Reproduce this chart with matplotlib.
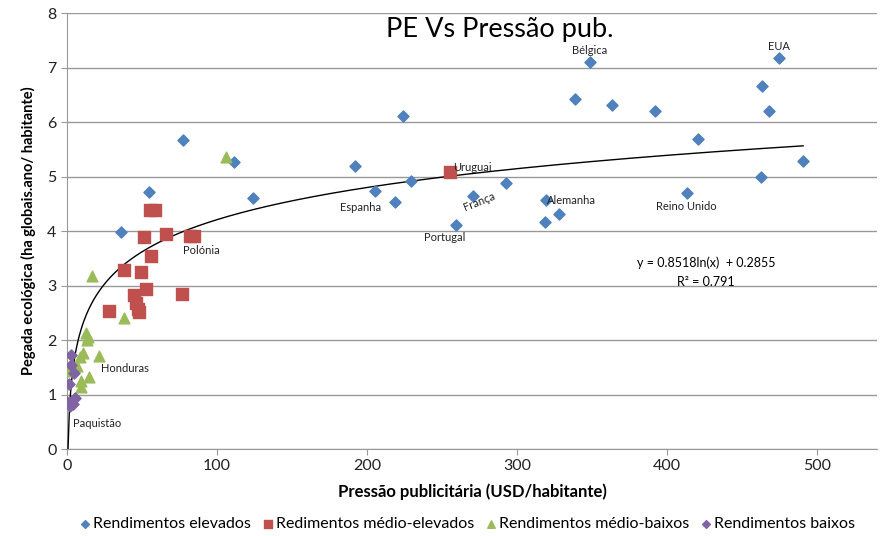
import numpy as np
import matplotlib.pyplot as plt

plt.rcParams['font.family'] = ['Lato', 'DejaVu Sans']

# Rendimentos elevados
alto_x = [35.8, 54.7, 77.1, 111.3, 124.2, 192.2, 205.3, 218.7, 224.2, 229.3,
          259.3, 270.9, 292.7, 318.7, 319.1, 328.2, 338.7, 348.7, 363.1, 392.0,
          413.1, 420.4, 462.9, 463.6, 468.0, 474.7, 490.7]
alto_y = [3.98, 4.72, 5.67, 5.26, 4.61, 5.19, 4.73, 4.53, 6.11, 4.91,
          4.11, 4.65, 4.89, 4.17, 4.56, 4.32, 6.42, 7.10, 6.32, 6.20,
          4.70, 5.69, 5.00, 6.67, 6.20, 7.17, 5.28]

# Rendimentos médio-elevados
medalto_x = [27.8, 38.2, 44.7, 46.0, 47.6, 48.0, 49.1, 51.3, 52.4, 55.5,
             55.8, 58.5, 65.8, 76.9, 82.2, 84.4, 255.3]
medalto_y = [2.54, 3.28, 2.83, 2.68, 2.56, 2.51, 3.24, 3.89, 2.93, 4.39,
             3.55, 4.39, 3.94, 2.84, 3.91, 3.91, 5.08]

# Rendimentos médio-baixos
medbaixo_x = [1.3, 6.4, 8.7, 9.1, 9.3, 10.9, 12.7, 13.6, 14.2, 14.9,
              16.7, 21.6, 37.8, 106.0]
medbaixo_y = [1.43, 1.52, 1.68, 1.13, 1.25, 1.77, 2.12, 2.00, 2.05, 1.32,
              3.17, 1.71, 2.40, 5.35]

# Rendimentos baixos
baixo_x = [0.3, 1.3, 2.0, 2.4, 2.7, 3.8, 4.7, 5.1]
baixo_y = [0.86, 1.19, 0.78, 1.72, 1.55, 0.83, 1.39, 0.94]

# rótulos dos países
paises = ['Bélgica', 'EUA', 'Uruguai', 'Espanha', 'França', 'Alemanha',
          'Portugal', 'Reino Unido', 'Polónia', 'Honduras', 'Paquistão']
rot_x = [348.7, 474.7, 257.6, 196.0, 275.0, 320.0, 252.0, 413.0, 89.3, 38.7, 19.8]
rot_y = [7.32, 7.38, 5.16, 4.43, 4.54, 4.56, 3.88, 4.45, 3.65, 1.48, 0.47]

# ajuste logarítmico
a, b = 0.8518, 0.2855

fig = plt.figure(figsize=(8.81, 5.36), dpi=100)
ax = fig.add_axes([0.076, 0.1623, 0.9195, 0.8134])

ax.set_xlim(0, 540)
ax.set_ylim(0, 8)
ax.set_yticks(range(0, 9))
ax.set_xticks(range(0, 501, 100))
ax.grid(axis='y', color='#999999', linewidth=1)
ax.set_axisbelow(True)
for s in ['top', 'right']:
    ax.spines[s].set_visible(False)
for s in ['left', 'bottom']:
    ax.spines[s].set_color('#999999')
ax.tick_params(colors='#999999', labelcolor='#222222', labelsize=11.5, length=4)

xs = np.linspace(np.exp(-b / a), 490.7, 600)
ax.plot(xs, a * np.log(xs) + b, color='black', linewidth=1, zorder=3)

ax.scatter(alto_x, alto_y, marker='D', s=32, color='#4F81BD', zorder=4,
           label='Rendimentos elevados')
ax.scatter(medalto_x, medalto_y, marker='s', s=80, color='#C0504D', zorder=4,
           label='Redimentos médio-elevados')
ax.scatter(medbaixo_x, medbaixo_y, marker='^', s=60, color='#9BBB59', zorder=4,
           label='Rendimentos médio-baixos')
ax.scatter(baixo_x, baixo_y, marker='D', s=32, color='#8064A2', zorder=4,
           label='Rendimentos baixos')

for nome, px, py in zip(paises, rot_x, rot_y):
    ha = 'left' if nome in ('Uruguai', 'Alemanha') else 'center'
    ang = 22 if nome == 'França' else 0
    ax.text(px, py, nome, fontsize=8, ha=ha, va='center', rotation=ang,
            color='#222222', zorder=5)

ax.text(426, 3.41, 'y = 0.8518ln(x)  + 0.2855', fontsize=9, ha='center', va='center')
ax.text(426, 3.07, 'R² = 0.791', fontsize=9, ha='center', va='center')

ax.text(288.7, 7.69, 'PE Vs Pressão pub.', fontsize=19.5, ha='center', va='center')

ax.set_xlabel('Pressão publicitária (USD/habitante)', fontsize=12, fontweight='bold',
              labelpad=7)
ax.set_ylabel('Pegada ecológica (ha globais.ano/ habitante)', fontsize=10.5,
              fontweight='bold', labelpad=8)

fig.legend(loc='lower center', bbox_to_anchor=(0.53, -0.018), ncol=4, frameon=False,
           fontsize=11.5, handletextpad=0.15, handlelength=0.7, columnspacing=0.7,
           markerscale=0.7)

fig.savefig('out.png', dpi=100)
